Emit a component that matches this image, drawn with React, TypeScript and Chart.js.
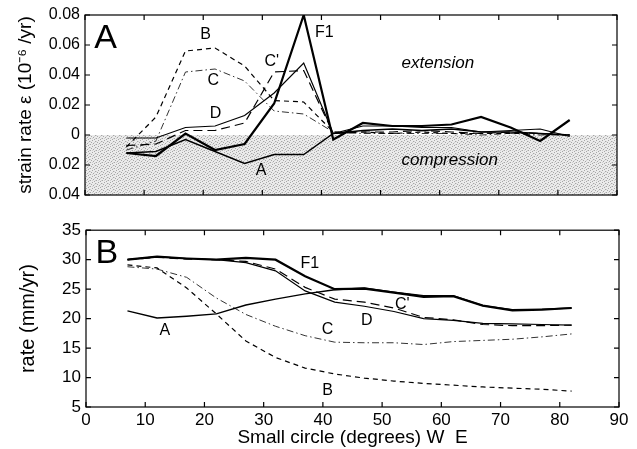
import { useEffect, useRef } from "react";
import { Chart, registerables } from "chart.js";

Chart.register(...registerables);

const FONT = '"Liberation Sans", Arial, Helvetica, sans-serif';
Chart.defaults.font.family = FONT;
Chart.defaults.color = "#000";

// sample positions along the small circle (degrees)
const degrees = [7, 12, 17, 22, 27, 32, 37, 42, 47, 52, 57, 62, 67, 72, 77, 82];
const degreeTicks = [0, 10, 20, 30, 40, 50, 60, 70, 80, 90];
const strainTicks = [-0.04, -0.02, 0, 0.02, 0.04, 0.06, 0.08];
const rateTicks = [5, 10, 15, 20, 25, 30, 35];

// panel A: strain rate (10^-6 /yr)
const strainF1 = [-0.012, -0.014, 0.001, -0.010, -0.006, 0.021, 0.080, -0.003, 0.008, 0.006, 0.006, 0.007, 0.012, 0.005, -0.004, 0.010];
const strainA = [-0.012, -0.011, -0.003, -0.011, -0.019, -0.013, -0.013, 0.001, 0.003, 0.004, 0.003, 0.004, 0.002, 0.002, 0.001, 0.000];
const strainD = [-0.002, -0.002, 0.005, 0.006, 0.013, 0.028, 0.048, 0.001, 0.006, 0.006, 0.005, 0.005, 0.002, 0.003, 0.004, -0.001];
const strainCp = [-0.007, -0.006, 0.003, 0.003, 0.008, 0.042, 0.043, 0.001, 0.002, 0.002, 0.003, 0.002, 0.001, 0.002, 0.001, 0.000];
const strainB = [-0.008, 0.012, 0.056, 0.058, 0.046, 0.023, 0.022, 0.002, 0.002, 0.001, 0.002, 0.001, 0.001, 0.001, 0.001, 0.000];
const strainC = [-0.010, -0.004, 0.042, 0.044, 0.036, 0.016, 0.014, 0.002, 0.001, 0.001, 0.001, 0.001, 0.000, 0.001, 0.000, 0.000];

// panel B: rate (mm/yr)
const rateF1 = [30.0, 30.5, 30.2, 30.0, 30.3, 30.0, 27.2, 25.0, 25.1, 24.4, 23.7, 23.8, 22.2, 21.4, 21.5, 21.8];
const rateA = [21.3, 20.1, 20.4, 20.8, 22.3, 23.3, 24.2, 24.9, 25.2, 24.5, 23.9, 23.9, 22.2, 21.5, 21.6, 21.8];
const rateD = [30.0, 30.5, 30.2, 30.0, 29.5, 28.1, 24.7, 22.8, 22.1, 21.2, 20.0, 19.7, 19.2, 19.1, 19.0, 18.9];
const rateCp = [30.0, 30.4, 30.1, 30.0, 29.7, 28.4, 25.3, 23.3, 22.8, 21.8, 20.2, 19.8, 19.0, 18.8, 18.8, 18.9];
const rateB = [29.1, 28.6, 25.2, 20.8, 16.2, 13.4, 11.6, 10.6, 9.9, 9.4, 9.0, 8.7, 8.4, 8.2, 8.0, 7.7];
const rateC = [28.8, 28.4, 27.0, 23.5, 20.7, 18.7, 17.1, 16.0, 15.9, 15.9, 15.6, 16.1, 16.3, 16.5, 16.9, 17.4];

// curve names written on the plots, at data coordinates
const strainNotes = [
  { text: "A", x: 3.5, y: 0.064, big: true },
  { text: "B", x: 20.4, y: 0.0667 },
  { text: "C", x: 21.7, y: 0.036 },
  { text: "C'", x: 31.6, y: 0.049 },
  { text: "D", x: 22.1, y: 0.014 },
  { text: "A", x: 29.8, y: -0.0235 },
  { text: "F1", x: 40.5, y: 0.068 },
  { text: "extension", x: 59.7, y: 0.048, italic: true },
  { text: "compression", x: 61.7, y: -0.0167, italic: true },
];
const rateNotes = [
  { text: "B", x: 3.5, y: 31.0, big: true },
  { text: "F1", x: 37.8, y: 29.3 },
  { text: "A", x: 13.3, y: 17.9 },
  { text: "C'", x: 53.4, y: 22.4 },
  { text: "D", x: 47.4, y: 19.6 },
  { text: "C", x: 40.8, y: 18.2 },
  { text: "B", x: 40.8, y: 7.8 },
];

type Note = { text: string; x: number; y: number; big?: boolean; italic?: boolean };

const styles = [
  { label: "F1", width: 2.2, dash: [] as number[], color: "#000" },
  { label: "A", width: 1.4, dash: [] as number[], color: "#000" },
  { label: "D", width: 1.2, dash: [] as number[], color: "#000" },
  { label: "C'", width: 1.2, dash: [9, 5], color: "#000" },
  { label: "B", width: 1.2, dash: [5, 4], color: "#000" },
  { label: "C", width: 1, dash: [7, 3, 1.5, 3], color: "#333" },
];

function makeSets(series: number[][]) {
  return series.map((vals, i) => ({
    label: styles[i].label,
    data: degrees.map((x, j) => ({ x, y: vals[j] })),
    borderColor: styles[i].color,
    borderWidth: styles[i].width,
    borderDash: styles[i].dash,
    pointRadius: 0,
    tension: 0,
    fill: false,
  }));
}

// light halftone used for the compression half of panel A
function stipple(ctx: CanvasRenderingContext2D) {
  const c = document.createElement("canvas");
  c.width = 6;
  c.height = 6;
  const p = c.getContext("2d")!;
  p.fillStyle = "#ebebeb";
  p.fillRect(0, 0, 6, 6);
  p.fillStyle = "#a6a6a6";
  [[0, 0], [4, 1], [2, 2], [5, 3], [1, 4], [3, 5]].forEach(([i, j]) => p.fillRect(i, j, 1, 1));
  p.fillStyle = "#d0d0d0";
  [[2, 0], [0, 3], [4, 4], [5, 0]].forEach(([i, j]) => p.fillRect(i, j, 1, 1));
  return ctx.createPattern(c, "repeat");
}

function framePlugin(yTicks: number[], notes: Note[], shade: boolean) {
  return {
    id: "frame",
    beforeDatasetsDraw(chart: any) {
      if (!shade) return;
      const { ctx, chartArea: a, scales } = chart;
      const y0 = scales.y.getPixelForValue(0);
      ctx.save();
      ctx.fillStyle = stipple(ctx) || "#ddd";
      ctx.fillRect(a.left, y0, a.right - a.left, a.bottom - y0);
      ctx.restore();
    },
    afterDatasetsDraw(chart: any) {
      const { ctx, chartArea: a, scales } = chart;
      ctx.save();
      ctx.strokeStyle = "#000";
      ctx.lineWidth = 1.2;
      ctx.strokeRect(a.left, a.top, a.right - a.left, a.bottom - a.top);
      ctx.beginPath();
      const len = 5;
      degreeTicks.forEach((v) => {
        const px = scales.x.getPixelForValue(v);
        ctx.moveTo(px, a.bottom);
        ctx.lineTo(px, a.bottom - len);
        ctx.moveTo(px, a.top);
        ctx.lineTo(px, a.top + len);
      });
      yTicks.forEach((v) => {
        const py = scales.y.getPixelForValue(v);
        ctx.moveTo(a.left, py);
        ctx.lineTo(a.left + len, py);
        ctx.moveTo(a.right, py);
        ctx.lineTo(a.right - len, py);
      });
      ctx.stroke();
      ctx.fillStyle = "#000";
      ctx.textAlign = "center";
      ctx.textBaseline = "middle";
      notes.forEach((n) => {
        const size = n.big ? 34 : n.italic ? 17 : 16;
        ctx.font = `${n.italic ? "italic " : ""}${size}px ${FONT}`;
        ctx.fillText(n.text, scales.x.getPixelForValue(n.x), scales.y.getPixelForValue(n.y));
      });
      ctx.restore();
    },
  };
}

function StrainPanel() {
  const ref = useRef<HTMLCanvasElement | null>(null);
  useEffect(() => {
    if (!ref.current) return;
    const chart = new Chart(ref.current, {
      type: "line",
      data: { datasets: makeSets([strainF1, strainA, strainD, strainCp, strainB, strainC]) as any },
      options: {
        animation: false,
        responsive: false,
        layout: { padding: { top: 15, right: 20, bottom: 0, left: 0 } },
        plugins: { legend: { display: false }, tooltip: { enabled: false } },
        scales: {
          x: {
            type: "linear",
            min: 0,
            max: 90,
            afterBuildTicks: (s: any) => {
              s.ticks = degreeTicks.map((value) => ({ value }));
            },
            afterFit: (s: any) => {
              s.height = 15;
            },
            grid: { display: false, drawTicks: false },
            border: { display: false },
            ticks: { display: false },
          },
          y: {
            type: "linear",
            min: -0.04,
            max: 0.08,
            afterBuildTicks: (s: any) => {
              s.ticks = strainTicks.map((value) => ({ value }));
            },
            afterFit: (s: any) => {
              s.width = 85;
            },
            grid: { display: false, drawTicks: false },
            border: { display: false },
            ticks: {
              padding: 5,
              font: { size: 16 },
              callback: (v: any) => (Math.abs(v) < 1e-9 ? "0" : Math.abs(v).toFixed(2)),
            },
            title: {
              display: true,
              text: "strain rate ε (10⁻⁶ /yr)",
              font: { size: 19 },
              padding: { top: 14, bottom: 0 },
            },
          },
        },
      },
      plugins: [framePlugin(strainTicks, strainNotes, true)],
    });
    return () => chart.destroy();
  }, []);
  return <canvas ref={ref} width={637} height={210} style={{ position: "absolute", left: 0, top: 0 }} />;
}

function RatePanel() {
  const ref = useRef<HTMLCanvasElement | null>(null);
  useEffect(() => {
    if (!ref.current) return;
    const chart = new Chart(ref.current, {
      type: "line",
      data: { datasets: makeSets([rateF1, rateA, rateD, rateCp, rateB, rateC]) as any },
      options: {
        animation: false,
        responsive: false,
        layout: { padding: { top: 13, right: 18, bottom: 0, left: 0 } },
        plugins: { legend: { display: false }, tooltip: { enabled: false } },
        scales: {
          x: {
            type: "linear",
            min: 0,
            max: 90,
            afterBuildTicks: (s: any) => {
              s.ticks = degreeTicks.map((value) => ({ value }));
            },
            afterFit: (s: any) => {
              s.height = 42;
            },
            grid: { display: false, drawTicks: false },
            border: { display: false },
            ticks: { padding: 3, font: { size: 17 }, maxRotation: 0 },
            title: {
              display: true,
              text: "Small circle (degrees) W  E",
              font: { size: 19 },
              padding: { top: 0, bottom: 0 },
            },
          },
          y: {
            type: "linear",
            min: 5,
            max: 35,
            afterBuildTicks: (s: any) => {
              s.ticks = rateTicks.map((value) => ({ value }));
            },
            afterFit: (s: any) => {
              s.width = 86;
            },
            grid: { display: false, drawTicks: false },
            border: { display: false },
            ticks: { padding: 5, font: { size: 17 } },
            title: {
              display: true,
              text: "rate (mm/yr)",
              font: { size: 20 },
              padding: { top: 16, bottom: 0 },
            },
          },
        },
      },
      plugins: [framePlugin(rateTicks, rateNotes, false)],
    });
    return () => chart.destroy();
  }, []);
  return <canvas ref={ref} width={637} height={234} style={{ position: "absolute", left: 0, top: 215 }} />;
}

export default function App() {
  return (
    <div style={{ position: "fixed", left: 0, top: 0, width: 637, height: 449, background: "#fff" }}>
      <StrainPanel />
      <RatePanel />
    </div>
  );
}
